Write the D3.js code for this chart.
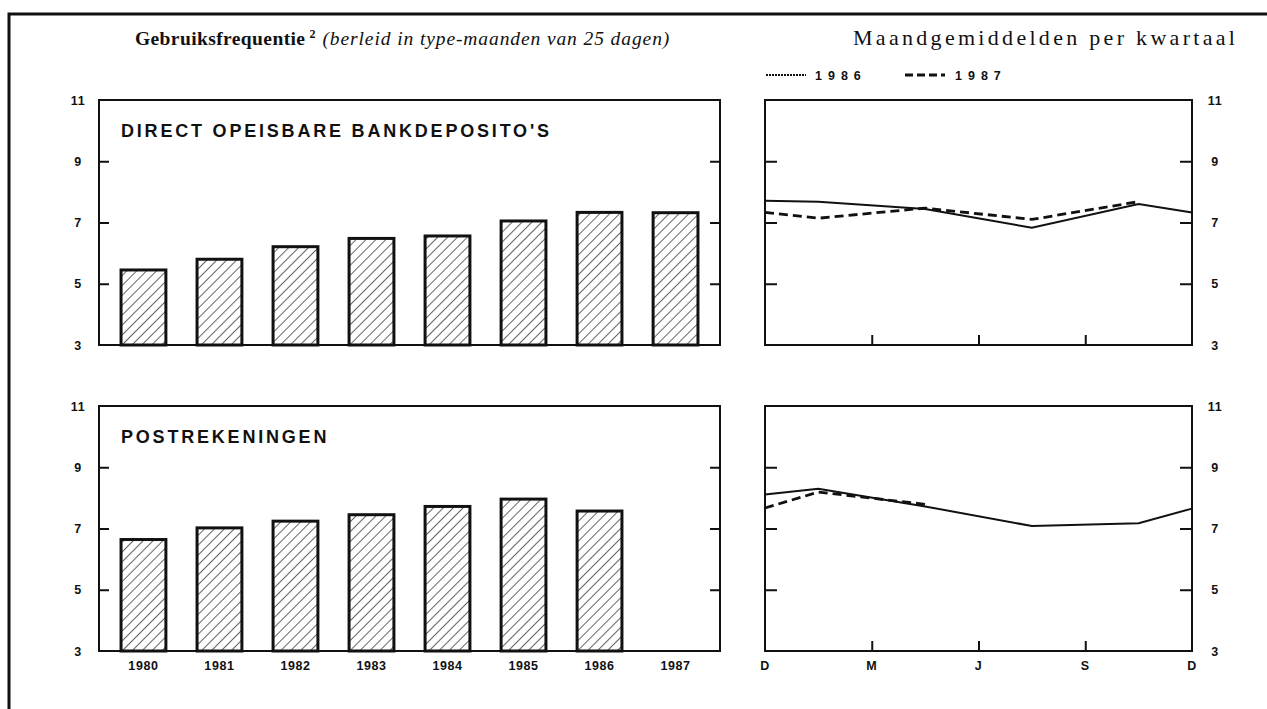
<!DOCTYPE html>
<html>
<head>
<meta charset="utf-8">
<script src="https://cdn.jsdelivr.net/npm/d3@7"></script>
<style>
  body { margin: 0; background: #fff; }
  svg { display: block; }
  .tick-label { font-family: 'Liberation Sans', Arial, sans-serif; font-weight: bold; font-size: 12.5px; letter-spacing: 0.6px; fill: #111; }
  .panel-title { font-family: 'Liberation Sans', Arial, sans-serif; font-weight: bold; font-size: 18px; letter-spacing: 2.8px; fill: #111; }
  .serif { font-family: 'Liberation Serif', 'DejaVu Serif', serif; fill: #111; }
</style>
</head>
<body>
<div id="chart"></div>
<script>
// values
const years = ['1980', '1981', '1982', '1983', '1984', '1985', '1986', '1987']
const bankDeposits = [5.45, 5.80, 6.21, 6.48, 6.56, 7.05, 7.33, 7.32]
const postAccounts = [6.64, 7.02, 7.24, 7.45, 7.72, 7.96, 7.57, null]

const yTicks = [3, 5, 7, 9, 11]
const monthLabels = ['D', 'M', 'J', 'S', 'D']
// position in quarters: D, mid Q1..Q4, D
const quarterPos = [0, 0.5, 1.5, 2.5, 3.5, 4]
const bank1986 = [7.71, 7.68, 7.44, 6.83, 7.60, 7.33]
const bank1987 = [7.33, 7.14, 7.47, 7.10, 7.68]
const post1986 = [8.11, 8.30, 7.72, 7.08, 7.17, 7.65]
const post1987 = [7.67, 8.19, 7.79]

const W = 1267, H = 709
const left = { x: 99, w: 621 }
const right = { x: 765, w: 427 }
const panelH = 245
const rows = [100, 406]

const svg = d3.select('#chart').append('svg')
  .attr('width', W)
  .attr('height', H)

// hatch pattern
const defs = svg.append('defs')
defs.append('pattern')
  .attr('id', 'hatch')
  .attr('patternUnits', 'userSpaceOnUse')
  .attr('width', 7)
  .attr('height', 7)
  .attr('patternTransform', 'rotate(45)')
  .append('line')
  .attr('x1', 0).attr('y1', 0)
  .attr('x2', 0).attr('y2', 7)
  .attr('stroke', '#111')
  .attr('stroke-width', 1.3)

// outer frame (top and left)
svg.append('path')
  .attr('d', 'M9,709 V14 H1267')
  .attr('fill', 'none')
  .attr('stroke', '#111')
  .attr('stroke-width', 3)

// titles
const t1 = svg.append('text').attr('class', 'serif').attr('x', 135).attr('y', 45).style('font-size', '19.5px')
t1.append('tspan').text('Gebruiksfrequentie').style('font-weight', 'bold').style('letter-spacing', '0.4px')
t1.append('tspan').text('2').attr('dy', -7).style('font-size', '12px').style('font-weight', 'bold').attr('dx', 4)
t1.append('tspan').text('(berleid in type-maanden van 25 dagen)').attr('dy', 7).attr('dx', 7)
  .style('font-style', 'italic').style('letter-spacing', '0.9px')

svg.append('text').attr('class', 'serif')
  .attr('x', 853).attr('y', 45)
  .style('font-size', '22px').style('letter-spacing', '3.3px')
  .text('Maandgemiddelden per kwartaal')

// legend
const legend = svg.append('g').attr('transform', 'translate(0,75)')
legend.append('line').attr('x1', 766).attr('x2', 806).attr('stroke', '#111')
  .attr('stroke-width', 2.2).attr('stroke-dasharray', '2,1')
legend.append('text').attr('class', 'tick-label').attr('x', 815).attr('y', 4.5).style('letter-spacing', '6px').text('1986')
legend.append('line').attr('x1', 905).attr('x2', 945).attr('stroke', '#111')
  .attr('stroke-width', 3).attr('stroke-dasharray', '8,4')
legend.append('text').attr('class', 'tick-label').attr('x', 955).attr('y', 4.5).style('letter-spacing', '6px').text('1987')

const y = d3.scaleLinear().domain([3, 11]).range([panelH, 0])

const xBand = d3.scaleBand()
  .domain(years)
  .range([0, left.w])
  .paddingInner(0.41)
  .paddingOuter(0.29)

const xQ = d3.scaleLinear().domain([0, 4]).range([0, right.w])

const panels = [
  { title: "DIRECT OPEISBARE BANKDEPOSITO'S", bars: bankDeposits, l86: bank1986, l87: bank1987 },
  { title: 'POSTREKENINGEN', bars: postAccounts, l86: post1986, l87: post1987 }
]

panels.forEach((p, r) => {
  const top = rows[r]

  // ---- left: bars ----
  const g = svg.append('g').attr('transform', 'translate(' + left.x + ',' + top + ')')

  g.selectAll('rect.bar')
    .data(p.bars.map((v, i) => ({ year: years[i], v })).filter(d => d.v != null))
    .enter().append('rect')
    .attr('class', 'bar')
    .attr('x', d => xBand(d.year))
    .attr('width', xBand.bandwidth())
    .attr('y', d => y(d.v))
    .attr('height', d => y(3) - y(d.v))
    .attr('fill', 'url(#hatch)')
    .attr('stroke', '#111')
    .attr('stroke-width', 3)

  g.append('rect')
    .attr('width', left.w).attr('height', panelH)
    .attr('fill', 'none').attr('stroke', '#111').attr('stroke-width', 2)

  // inner ticks both sides
  let axL = d3.axisLeft(y).tickValues([5, 7, 9]).tickSize(-10).tickFormat('')
  let gL = g.append('g')
  axL(gL)
  let axR = d3.axisRight(y).tickValues([5, 7, 9]).tickSize(-10).tickFormat('')
  let gR = g.append('g').attr('transform', 'translate(' + left.w + ',0)')
  axR(gR)
  g.selectAll('.domain').remove()
  g.selectAll('.tick line').attr('stroke', '#111').attr('stroke-width', 2)

  g.selectAll('text.ylab')
    .data(yTicks)
    .enter().append('text')
    .attr('class', 'tick-label ylab')
    .attr('x', -21).attr('y', d => y(d) + 4.5)
    .attr('text-anchor', 'middle')
    .text(d => d)

  g.append('text')
    .attr('class', 'panel-title')
    .attr('x', 22).attr('y', 37)
    .text(p.title)

  // ---- right: lines ----
  const h = svg.append('g').attr('transform', 'translate(' + right.x + ',' + top + ')')
  h.append('rect')
    .attr('width', right.w).attr('height', panelH)
    .attr('fill', 'none').attr('stroke', '#111').attr('stroke-width', 2)

  let rL = d3.axisLeft(y).tickValues([5, 7, 9]).tickSize(-12).tickFormat('')
  let hL = h.append('g')
  rL(hL)
  let rR = d3.axisRight(y).tickValues([5, 7, 9]).tickSize(-12).tickFormat('')
  let hR = h.append('g').attr('transform', 'translate(' + right.w + ',0)')
  rR(hR)
  let rB = d3.axisBottom(xQ).tickValues([1, 2, 3]).tickSize(-10).tickFormat('')
  let hB = h.append('g').attr('transform', 'translate(0,' + panelH + ')')
  rB(hB)
  h.selectAll('.domain').remove()
  h.selectAll('.tick line').attr('stroke', '#111').attr('stroke-width', 2)

  h.selectAll('text.ylab')
    .data(yTicks)
    .enter().append('text')
    .attr('class', 'tick-label ylab')
    .attr('x', right.w + 23).attr('y', d => y(d) + 4.5)
    .attr('text-anchor', 'middle')
    .text(d => d)

  const line = d3.line()
    .x((d, i) => xQ(quarterPos[i]))
    .y(d => y(d))

  h.append('path')
    .datum(p.l86)
    .attr('d', line)
    .attr('fill', 'none')
    .attr('stroke', '#111')
    .attr('stroke-width', 2)

  h.append('path')
    .datum(p.l87)
    .attr('d', line)
    .attr('fill', 'none')
    .attr('stroke', '#111')
    .attr('stroke-width', 2.8)
    .attr('stroke-dasharray', '9,5')

  // x labels under bottom row
  if (r === 1) {
    g.selectAll('text.xlab')
      .data(years)
      .enter().append('text')
      .attr('class', 'tick-label xlab')
      .attr('x', d => xBand(d) + xBand.bandwidth() / 2)
      .attr('y', panelH + 19)
      .attr('text-anchor', 'middle')
      .text(d => d)

    h.selectAll('text.xlab')
      .data(monthLabels)
      .enter().append('text')
      .attr('class', 'tick-label xlab')
      .attr('x', (d, i) => xQ(i))
      .attr('y', panelH + 19)
      .attr('text-anchor', 'middle')
      .text(d => d)
  }
})
</script>
</body>
</html>
